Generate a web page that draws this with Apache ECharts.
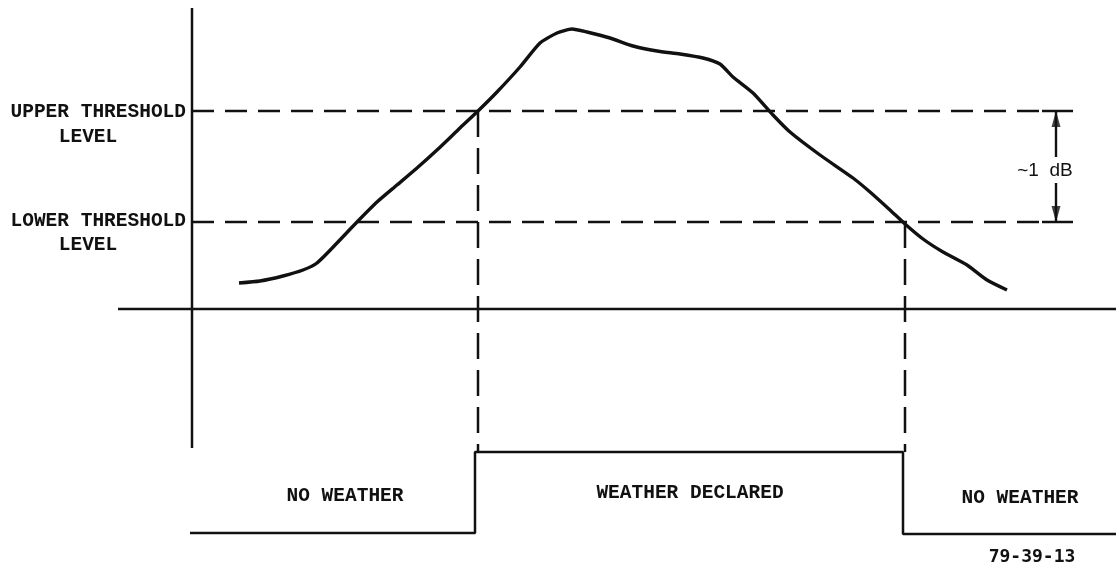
<!DOCTYPE html>
<html><head><meta charset="utf-8">
<script src="https://cdn.jsdelivr.net/npm/echarts@6/dist/echarts.min.js"></script>
<style>html,body{margin:0;padding:0;background:#fff}#c{width:1116px;height:569px}</style>
</head><body><div id="c"></div>
<script>
// Signal curve (time, level)
const curveX = [239,260,283,303,317,337,357,377,397,417,437,460,478,497,520,540,557,572,587,610,633,657,680,703,720,733,753,773,790,820,853,870,890,905,923,943,967,987,1007];
const curveY = [286,288,293,299,306,326,347,367,384,401,419,441,458,477,502,526,536,540,537,531,523,518,515,511,505,492,476,454,437,414,391,377,359,345,330,317,304,289,279];
// Threshold levels
const upperLevel = 458;
const lowerLevel = 347;
const thresholdFrom = 192, thresholdTo = 1040;
const dimTickFrom = 1042, dimTickTo = 1073, dimX = 1056;
const dimGap = [412, 386];
// Axes of the signal plot
const vAxisX = [192, 192];
const vAxisY = [561, 121];
const hAxisX = [118, 1116];
const hAxisY = [260, 260];
// Threshold crossing times
const crossUp = 478, crossDown = 905;
const pulseHigh = 117;
// Output (weather declared) pulse
const pulseX = [190, 475, 475, 903, 903, 1116];
const pulseY = [36, 36, 117, 117, 35, 35];

const black = '#111';
function line(xs, ys, opts) {
  return Object.assign({
    type: 'line', symbol: 'none', silent: true, animation: false,
    data: xs.map((x, i) => [x, ys[i]]),
    lineStyle: { color: black, width: 2.5 }
  }, opts || {});
}
const dashed = { color: black, width: 2.5, type: [22, 11] };

const series = [
  line(curveX, curveY, { smooth: 0.2, lineStyle: { color: black, width: 3.4 } }),
  line(vAxisX, vAxisY),
  line(hAxisX, hAxisY),
  line([thresholdFrom, thresholdTo], [upperLevel, upperLevel], { lineStyle: dashed }),
  line([thresholdFrom, thresholdTo], [lowerLevel, lowerLevel], { lineStyle: dashed }),
  line([dimTickFrom, dimTickTo], [upperLevel, upperLevel]),
  line([dimTickFrom, dimTickTo], [lowerLevel, lowerLevel]),
  line([crossUp, crossUp], [upperLevel, pulseHigh], { lineStyle: Object.assign({}, dashed, { type: [26, 11] }) }),
  line([crossDown, crossDown], [lowerLevel, pulseHigh], { lineStyle: Object.assign({}, dashed, { type: [26, 11] }) }),
  line(pulseX, pulseY),
  line([dimX, dimX], [upperLevel, dimGap[0]], { lineStyle: { color: black, width: 2.4 } }),
  line([dimX, dimX], [dimGap[1], lowerLevel], { lineStyle: { color: black, width: 2.4 } }),
  {
    type: 'scatter', silent: true, animation: false,
    symbol: 'triangle', symbolSize: [9, 16], symbolOffset: [0, 8],
    itemStyle: { color: black },
    data: [[dimX, upperLevel]]
  },
  {
    type: 'scatter', silent: true, animation: false,
    symbol: 'triangle', symbolSize: [9, 16], symbolRotate: 180, symbolOffset: [0, -8],
    itemStyle: { color: black },
    data: [[dimX, lowerLevel]]
  }
];

const mono = '"Liberation Mono", "DejaVu Sans Mono", monospace';
function txt(text, x, y, align, opts) {
  return {
    type: 'text', x: x, y: y, silent: true,
    style: Object.assign({ text: text, fill: black, font: 'bold 19.5px ' + mono, align: align, verticalAlign: 'middle' }, opts || {})
  };
}

const chart = echarts.init(document.getElementById('c'), null, { renderer: 'canvas' });
chart.setOption({
  animation: false,
  backgroundColor: '#fff',
  grid: { left: 0, right: 0, top: 0, bottom: 0 },
  xAxis: { type: 'value', min: 0, max: 1116, show: false },
  yAxis: { type: 'value', min: 0, max: 569, show: false },
  series: series,
  graphic: [
    txt('UPPER THRESHOLD', 186, 112, 'right'),
    txt('LEVEL', 88, 137, 'center'),
    txt('LOWER THRESHOLD', 186, 221, 'right'),
    txt('LEVEL', 88, 245, 'center'),
    txt('~1  dB', 1045, 171, 'center', { font: '19px "Liberation Sans", sans-serif' }),
    txt('NO WEATHER', 345, 496, 'center'),
    txt('WEATHER DECLARED', 690, 493, 'center'),
    txt('NO WEATHER', 1020, 498, 'center'),
    txt('79-39-13', 1032, 557, 'center', { font: 'bold 18px "DejaVu Sans Mono", monospace' })
  ]
});
</script></body></html>
